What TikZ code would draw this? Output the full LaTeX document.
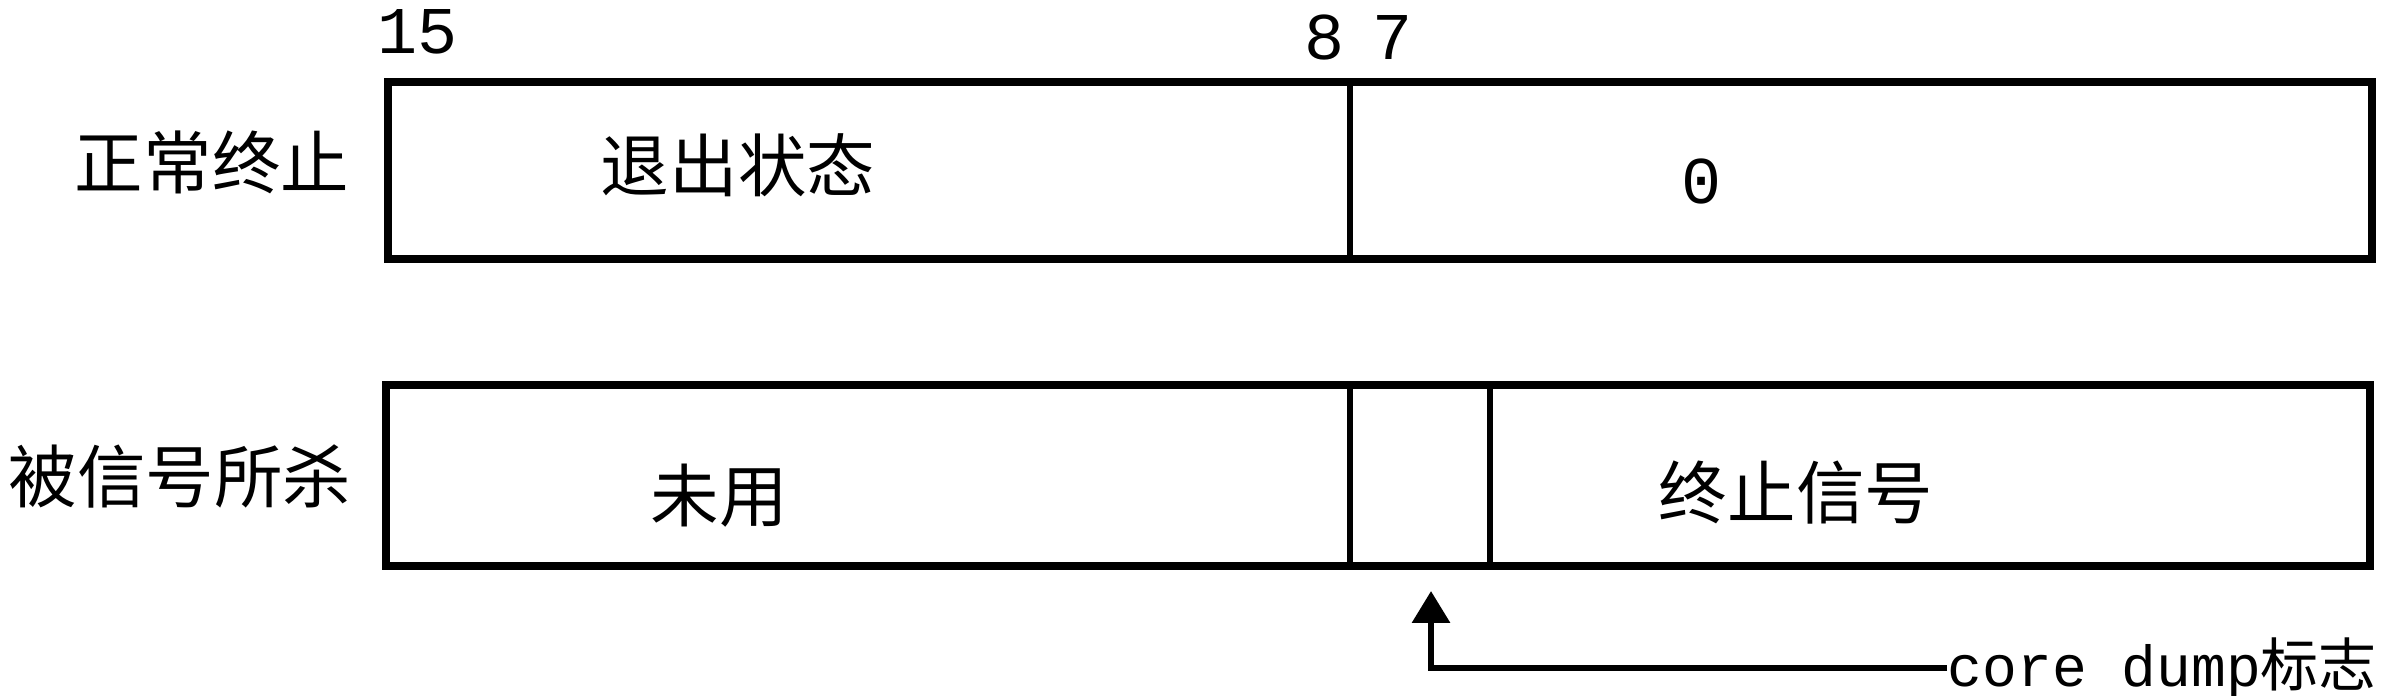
\documentclass[tikz,border=0pt]{standalone}
\usepackage{fontspec}
\setmainfont{Noto Sans CJK SC}
\newfontfamily\bitfont{Liberation Mono}
\usetikzlibrary{arrows.meta}

\begin{document}
\begin{tikzpicture}[
    field/.style={draw, line width=2.4pt},
    bitline/.style={line width=1.6pt},
    cjklabel/.style={font=\fontsize{19.5}{21}\selectfont, inner sep=0pt},
    bitnum/.style={font=\bitfont\fontsize{19}{21}\selectfont, inner sep=0pt},
    flagline/.style={line width=1.8pt, -{Triangle[width=3.7mm,length=3.2mm]}}
]
    \useasboundingbox (0,0) rectangle (23.94,6.96);

	% normal exit: bits 15..8 = exit status, 7..0 = 0
	\draw [field] (3.88,4.37) rectangle (23.72,6.14);
	\draw [bitline] (13.50,4.37) -- (13.50,6.14);

	% killed by signal
	\draw [field] (3.86,1.30) rectangle (23.70,3.11);
    \foreach \x in {13.50,14.90} \draw [bitline] (\x,1.30) -- (\x,3.11);

	 \node [bitnum] (n15) at (4.18,6.64) {15};
	 \node [bitnum] (n8)  at (13.25,6.58) {8};
	 \node [bitnum] (n7)  at (13.93,6.58) {7};
	 \node [bitnum] (n0)  at (17.02,5.15) {0};

	 \node [cjklabel] (normal) at (2.12,5.34) {正常终止};
	 \node [cjklabel] (status) at (7.38,5.31) {退出状态};
	 \node [cjklabel] (killed) at (1.80,2.20) {被信号所杀};
	 \node [cjklabel] (unused) at (7.19,2.00) {未用};
	 \node [cjklabel] (signal) at (17.96,2.03) {终止信号};

	% core dump flag
	\coordinate (flag) at (14.31,1.05);
	 \node [cjklabel, anchor=west] (dump) at (19.47,0.28)
		{{\bitfont\fontsize{16.5}{18}\selectfont core dump}{\fontsize{16.5}{18}\selectfont 标志}};
	\draw [flagline] (dump.west) -| (flag);
\end{tikzpicture}
\end{document}
